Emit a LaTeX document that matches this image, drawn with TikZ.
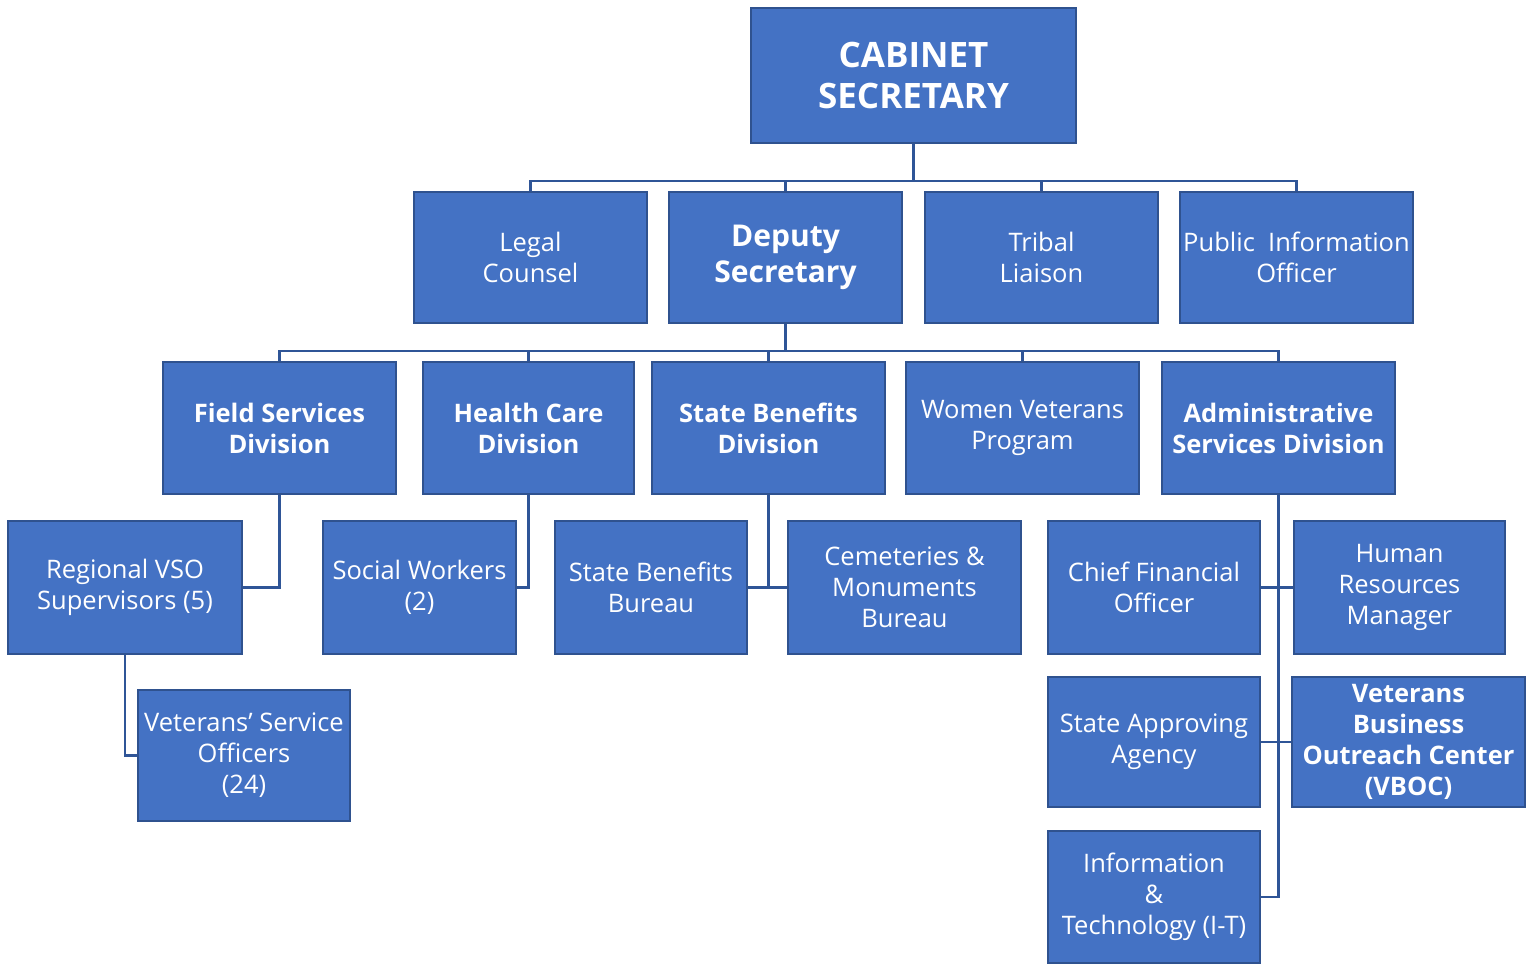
\documentclass[tikz,border=0pt]{standalone}
\usepackage{fontspec}
\setmainfont{Open Sans}
\usepackage{xcolor}
\usetikzlibrary{positioning}
\definecolor{boxblue}{HTML}{4472C4}
\definecolor{boxedge}{HTML}{2F528F}
\definecolor{linkblue}{HTML}{2F5597}
\tikzstyle{unit}=[draw=boxedge, line width=1.5pt, fill=boxblue, text=white, align=center, inner sep=1pt, minimum width=233pt, minimum height=131pt, font=\fontsize{25.5}{31}\selectfont]
\tikzstyle{head}=[unit, font=\fontsize{25.5}{31}\selectfont\bfseries]
\tikzstyle{link}=[line width=2.5pt, linkblue]

\begin{document}
\begin{tikzpicture}[x=1pt, y=-1pt]
            \useasboundingbox (0,0) rectangle (1538,963);
            % top levels
            \node[unit, minimum width=325pt, minimum height=135pt, font=\fontsize{35}{41}\selectfont\bfseries] (cab) at (913.5,75.5) {CABINET\\SECRETARY};
            \node[unit] (legal) at (530.5,257.5) {Legal\\Counsel};
            \node[unit, font=\fontsize{30}{36}\selectfont\bfseries] (deputy) at (785.5,257.5) {Deputy\\Secretary};
            \node[unit] (tribal) at (1041.5,257.5) {Tribal\\Liaison};
            \node[unit] (pio) at (1296.5,257.5) {Public\ \ Information\\Officer};
            % divisions
            \node[head, minimum height=132pt] (field) at (279.5,428) {Field Services\\Division};
            \node[head, minimum width=211pt, minimum height=132pt] (health) at (528.5,428) {Health Care\\Division};
            \node[head, minimum height=132pt] (sbd) at (768.5,428) {State Benefits\\Division};
            \node[unit, minimum height=132pt] (women) at (1022.5,428) {Women Veterans\\Program};
            \node[head, minimum height=132pt] (admin) at (1278.5,428) {Administrative\\Services Division};
            % offices
            \node[unit, minimum width=234pt, minimum height=133pt] (vso) at (125,587.5) {Regional VSO\\Supervisors (5)};
            \node[unit, minimum width=193pt, minimum height=133pt] (social) at (419.5,587.5) {Social Workers\\(2)};
            \node[unit, minimum width=192pt, minimum height=133pt] (sbb) at (651,587.5) {State Benefits\\Bureau};
            \node[unit, minimum height=133pt] (cem) at (904.5,587.5) {Cemeteries \&\\Monuments\\Bureau};
            \node[unit, minimum width=212pt, minimum height=133pt] (cfo) at (1154,587.5) {Chief Financial\\Officer};
            \node[unit, minimum width=211pt, minimum height=133pt] (hr) at (1399.5,587.5) {Human\\Resources\\Manager};
            \node[unit, minimum width=212pt] (vsoff) at (244,755.5) {Veterans' Service\\Officers\\(24)};
            \node[unit, minimum width=212pt, minimum height=130pt] (saa) at (1154,742) {State Approving\\Agency};
            \node[head, minimum height=130pt] (vboc) at (1408.5,742) {Veterans\\Business\\Outreach Center\\(VBOC)};
            \node[unit, minimum width=212pt, minimum height=132pt] (it) at (1154,897) {Information\\\&\\Technology (I-T)};

            \coordinate (bus1) at (913.5,181);
            \coordinate (bus2) at (785.5,351);

            \draw[link] (cab.south) -- (bus1);
            \draw[link] (legal.north) |- (bus1) -| (pio.north);
            \draw[link] (deputy.north) -- (deputy.north |- bus1);
            \draw[link] (tribal.north) -- (tribal.north |- bus1);

            \draw[link] (deputy.south) -- (bus2);
            \draw[link] (field.north) |- (bus2) -| (admin.north);
            \draw[link] (health.north) -- (health.north |- bus2);
            \draw[link] (sbd.north) -- (sbd.north |- bus2);
            \draw[link] (women.north) -- (women.north |- bus2);

            \draw[link] (field.south) |- (vso.east);
            \draw[link] (vso.south) |- (vsoff.west);
            \draw[link] (health.south) |- (social.east);
            \draw[link] (sbd.south) |- (sbb.east);
            \draw[link] (sbd.south) |- (cem.west);
            \draw[link] (admin.south) |- (it.east);
            \draw[link] (cfo.east) -- (hr.west);
            \draw[link] (saa.east) -- (vboc.west);
        \end{tikzpicture}
\end{document}
